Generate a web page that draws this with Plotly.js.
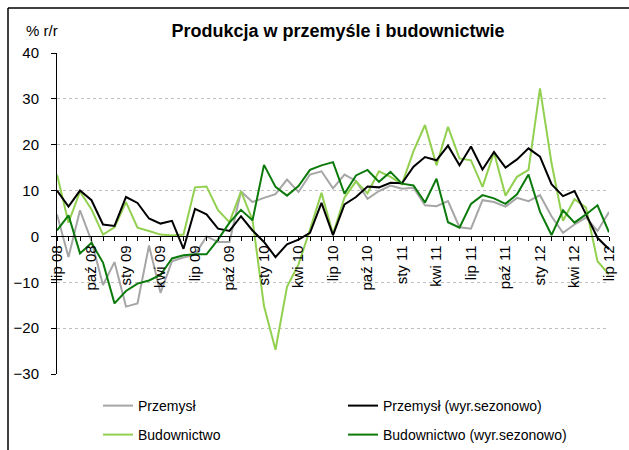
<!DOCTYPE html>
<html>
<head>
<meta charset="utf-8">
<script src="https://cdn.plot.ly/plotly-3.0.1.min.js"></script>
<style>
  html, body { margin: 0; padding: 0; background: #fff; }
  #chart { width: 629px; height: 450px; }
</style>
</head>
<body>
<div id="chart"></div>
<script>
// ---- data ----
var months = ['lip 08','sie 08','wrz 08','paź 08','lis 08','gru 08','sty 09','lut 09','mar 09','kwi 09','maj 09','cze 09',
              'lip 09','sie 09','wrz 09','paź 09','lis 09','gru 09','sty 10','lut 10','mar 10','kwi 10','maj 10','cze 10',
              'lip 10','sie 10','wrz 10','paź 10','lis 10','gru 10','sty 11','lut 11','mar 11','kwi 11','maj 11','cze 11',
              'lip 11','sie 11','wrz 11','paź 11','lis 11','gru 11','sty 12','lut 12','mar 12','kwi 12','maj 12','cze 12',
              'lip 12'];

var przemysl = [4.8,-4.5,5.7,-1.0,-10.6,-5.6,-15.3,-14.6,-2.0,-12.3,-5.4,-4.6,
                -4.0,0.0,-1.2,-1.2,9.8,7.5,8.4,9.2,12.4,9.7,13.5,14.2,
                10.5,13.5,12.1,8.2,9.9,11.1,10.4,10.6,6.8,6.6,7.7,2.0,
                1.7,7.9,7.5,6.5,8.4,7.7,9.0,4.4,0.8,2.6,4.1,1.2,
                5.3];

var przemyslSA = [10.0,6.5,10.0,7.9,2.6,2.3,8.6,7.3,3.9,2.8,3.4,-2.7,
                  6.0,4.8,1.7,1.2,4.4,1.3,-1.2,-4.5,-1.7,-0.7,0.8,7.3,
                  0.3,7.0,8.6,10.9,10.7,11.7,11.6,15.2,17.3,16.6,19.8,15.5,
                  19.6,14.6,18.4,15.0,16.8,19.2,17.4,11.4,8.8,9.9,4.8,-0.3,
                  -2.8];

var budownictwo = [13.5,3.0,9.8,5.9,0.4,2.0,7.5,1.9,1.2,0.4,0.2,0.4,
                   10.7,10.9,5.7,3.1,9.8,3.6,-15.2,-24.7,-11.0,-6.1,1.5,9.5,
                   0.5,8.5,12.0,9.4,14.2,13.0,11.4,18.6,24.3,15.5,23.9,17.0,
                   16.6,10.8,18.3,8.9,13.0,14.5,32.3,16.0,3.4,8.1,6.3,-5.4,
                   -8.3];

var budownictwoSA = [1.3,4.6,-3.7,-1.4,-5.7,-14.6,-11.9,-10.3,-9.6,-8.4,-4.8,-4.1,
                     -3.9,-3.9,-0.7,3.0,5.8,3.5,15.6,10.8,8.9,11.0,14.5,15.5,
                     16.2,9.3,13.3,14.5,11.9,14.1,11.5,11.1,7.4,12.6,3.1,1.9,
                     7.1,9.0,8.3,7.1,9.2,13.5,5.4,0.3,5.7,3.0,4.8,6.8,
                     0.9];

var seriesNames = ['Przemysł', 'Przemysł (wyr.sezonowo)', 'Budownictwo', 'Budownictwo (wyr.sezonowo)'];
var yTicks = [-30, -20, -10, 0, 10, 20, 30, 40];

// ---- layout helpers ----
var W = 629, H = 450;
var mL = 57, mR = 20, mT = 53, mB = 76;
var pw = W - mL - mR, ph = H - mT - mB;
function px2paperX(X) { return (X - mL) / pw; }
function px2paperY(Y) { return (H - mB - Y) / ph; }

var font = '"Liberation Sans", Arial, sans-serif';
var tickText = months.map(function (m, i) { return i % 3 === 0 ? m : ''; });

function mk(y, name, color, legend) {
  return {
    type: 'scatter', mode: 'lines', x: months, y: y, name: name,
    line: { color: color, width: 2 }, legend: legend, hoverinfo: 'skip'
  };
}

var data = [
  mk(przemysl, seriesNames[0], '#a6a6a6', 'legend'),
  mk(budownictwo, seriesNames[2], '#92d050', 'legend3'),
  mk(przemyslSA, seriesNames[1], '#000000', 'legend2'),
  mk(budownictwoSA, seriesNames[3], '#0b7a0b', 'legend4')
];

function leg(X, Y) {
  return {
    x: px2paperX(X), xanchor: 'left', y: px2paperY(Y), yanchor: 'middle',
    orientation: 'h', bgcolor: 'rgba(0,0,0,0)', borderwidth: 0,
    font: { family: font, size: 14, color: '#000' }
  };
}

var layout = {
  width: W, height: H,
  margin: { l: mL, r: mR, t: mT, b: mB, pad: 0, autoexpand: false },
  paper_bgcolor: '#fff', plot_bgcolor: '#fff',
  font: { family: font, color: '#000' },
  title: {
    text: '<b>Produkcja w przemyśle i budownictwie</b>',
    font: { family: font, size: 18, color: '#000' },
    x: 338 / W, xanchor: 'center', xref: 'container',
    y: 1 - 31 / H, yanchor: 'middle', yref: 'container'
  },
  xaxis: {
    type: 'category', range: [0, months.length - 1],
    anchor: 'free', position: (0 - yTicks[0]) / (yTicks[yTicks.length - 1] - yTicks[0]),
    showline: true, linecolor: '#000', linewidth: 1,
    showgrid: false, zeroline: false,
    tickmode: 'array', tickvals: months, ticktext: tickText,
    ticks: 'outside', ticklen: 4, tickcolor: '#000', tickwidth: 1,
    tickangle: -90, ticklabelstandoff: -2,
    tickfont: { family: font, size: 15, color: '#000' }
  },
  yaxis: {
    range: [yTicks[0], yTicks[yTicks.length - 1]],
    tickmode: 'array', tickvals: yTicks,
    showline: true, linecolor: '#000', linewidth: 1,
    ticks: 'outside', ticklen: 5, tickcolor: '#000', tickwidth: 1,
    ticklabelstandoff: 9,
    showgrid: true, gridcolor: '#bfbfbf', gridwidth: 1, griddash: 'dot',
    zeroline: false,
    tickfont: { family: font, size: 15, color: '#000' }
  },
  legend: leg(98, 406),
  legend2: leg(343, 406),
  legend3: leg(98, 435),
  legend4: leg(343, 435),
  annotations: [{
    text: '% r/r', xref: 'paper', yref: 'paper',
    x: px2paperX(24), xanchor: 'left', y: px2paperY(31), yanchor: 'middle',
    showarrow: false, font: { family: font, size: 15, color: '#000' }
  }],
  shapes: [
    { type: 'line', xref: 'paper', yref: 'paper', x0: px2paperX(8), x1: px2paperX(640),
      y0: px2paperY(8), y1: px2paperY(8), line: { color: '#000', width: 1.5 } },
    { type: 'line', xref: 'paper', yref: 'paper', x0: px2paperX(8), x1: px2paperX(8),
      y0: px2paperY(8), y1: px2paperY(460), line: { color: '#000', width: 1.5 } }
  ],
  showlegend: true
};

Plotly.newPlot('chart', data, layout, { staticPlot: true, displayModeBar: false });
</script>
</body>
</html>
